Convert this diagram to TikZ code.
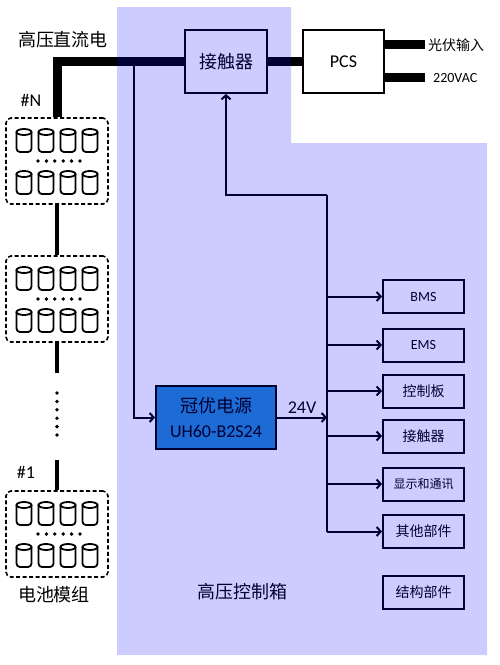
\documentclass[tikz,border=0pt]{standalone}
\usepackage{fontspec}
\setmainfont{Carlito}
\newfontfamily\cjk{Noto Sans CJK SC}
\usetikzlibrary{arrows.meta}
\definecolor{psublue}{RGB}{37,135,204}

\begin{document}
\begin{tikzpicture}[x=1pt,y=-1pt,line join=miter,
  busline/.style={line width=9pt},
  linkline/.style={line width=4pt},
  sig/.style={line width=2pt},
  sigarrow/.style={sig,-{Straight Barb[length=4pt,width=9pt]}},
  bigtext/.style={font=\fontsize{18}{22}\selectfont},
  cjkbig/.style={font=\cjk\fontsize{18}{22}\selectfont},
  unitbox/.style={draw,line width=2pt,inner sep=0pt,minimum width=81pt,minimum height=33pt,font=\fontsize{14}{16}\selectfont},
  module/.style={draw,line width=1.6pt,dash pattern=on 4pt off 2.5pt,rounded corners=5pt,minimum width=102pt,minimum height=86pt,inner sep=0pt},
  cell/.pic={
    \draw[line width=1.8pt,fill=white,rounded corners=3.5pt] (-7.5,-8.5) -- (-7.5,11.5) -- (7.5,11.5) -- (7.5,-8.5);
    \draw[line width=1.8pt] (0,-8.5) ellipse (7.5pt and 3pt);}]
  \useasboundingbox (0,0) rectangle (499,665);

  % battery modules
  \foreach \m/\y in {modN/161,mod2/299,mod1/534}{
    \node[module] (\m) at (57,\y) {};
    \foreach \cx in {-33,-11,11,33}{
      \pic at (57+\cx,\y-20.5) {cell};
      \pic at (57+\cx,\y+21.5) {cell};
    }
    \foreach \i in {0,...,5} \fill (38+8.4*\i,\y) circle (1.9pt);
  }
  \node[bigtext] (numN) at (31,100) {\#N};
  \node[bigtext] (num1) at (26,472) {\#1};
  \node[cjkbig] (modlbl) at (54,595) {电池模组};
  \node[cjkbig] (hvdc) at (63,40) {高压直流电};

  \coordinate (gapA) at (57,373);
  \coordinate (gapB) at (57,460);
  \draw[linkline] (modN.south) -- (mod2.north);
  \draw[linkline] (mod2.south) -- (gapA);
  \draw[linkline] (gapB) -- (mod1.north);
  \foreach \yy in {393,401.4,409.8,418.2,426.6,435} \fill (57,\yy) circle (1.9pt);

  % contactor and PCS
  \node[draw,line width=2pt,minimum width=82pt,minimum height=63pt,cjkbig] (kc) at (226,61.5) {接触器};
  \node[draw,line width=2pt,fill=white,minimum width=81pt,minimum height=63pt,bigtext] (pcs) at (343.5,61.5) {PCS};
  \draw[busline] (modN.north) |- (kc.west);
  \draw[busline] (kc.east) -- (pcs.west);

  \coordinate (pvend) at (425,44);
  \coordinate (acend) at (425,77);
  \node[anchor=west,inner sep=0pt,font=\cjk\fontsize{14}{16}\selectfont] (pvin) at (428,45) {光伏输入};
  \node[anchor=west,inner sep=0pt,font=\fontsize{14}{16}\selectfont] (acin) at (433,78) {220VAC};
  \draw[busline] (pcs.east |- pvend) -- (pvend);
  \draw[busline] (pcs.east |- acend) -- (acend);

  % power supply
  \node[draw,line width=2pt,fill=psublue,minimum width=120pt,minimum height=63pt,align=center,font=\fontsize{18}{25}\selectfont] (psu) at (216,417.5) {{\cjk 冠优电源}\\UH60-B2S24};
  \coordinate (tap) at (134,66);
  \draw[sigarrow] (tap) |- (psu.west);

  % 24V bus
  \coordinate (bustop) at (327,195);
  \coordinate (busbot) at (327,531.5);
  \draw[sigarrow] (psu.east) -- node[above=0pt,bigtext] {24V} (bustop |- psu.east);
  \draw[sig] (bustop) -- (busbot);
  \draw[sigarrow] (bustop) -| (kc.south);

  \node[unitbox] (bms) at (423.5,296.5) {BMS};
  \node[unitbox] (ems) at (423.5,345) {EMS};
  \node[unitbox] (ctrl) at (423.5,391) {\cjk 控制板};
  \node[unitbox] (kc2) at (423.5,436) {\cjk 接触器};
  \node[unitbox] (disp) at (423.5,484) {\cjk\fontsize{12}{14}\selectfont 显示和通讯};
  \node[unitbox] (other) at (423.5,531.5) {\cjk 其他部件};
  \node[unitbox] (frame) at (423.5,592.5) {\cjk 结构部件};
  \foreach \b in {bms,ems,ctrl,kc2,disp,other}
    \draw[sigarrow] (bustop |- \b.west) -- (\b.west);

  \node[cjkbig] (boxlbl) at (242,592) {高压控制箱};

  % control box area
  \fill[blue,fill opacity=0.2] (117,7) -- (291,7) -- (291,143) -- (487,143) -- (487,655) -- (117,655) -- cycle;
\end{tikzpicture}
\end{document}
